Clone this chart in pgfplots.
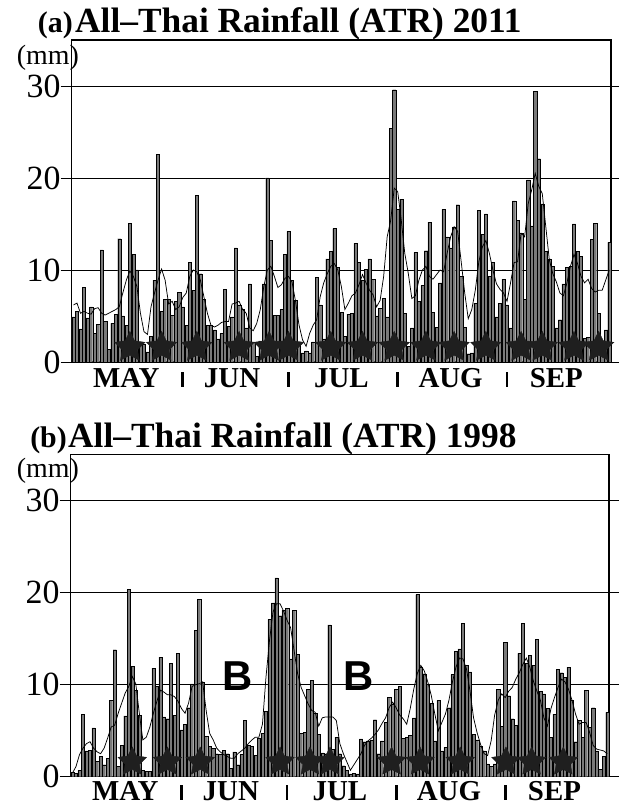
\documentclass[border=0pt]{standalone}
\usepackage{fontspec}
\setmainfont{Liberation Serif}
\setsansfont{Liberation Sans}
\usepackage{pgfplots}
\usepackage{pgfplotstable}
\pgfplotsset{compat=1.18}

% filled five-point star for the marked days
\pgfdeclareplotmark{fstar}{%
  \pgfpathmoveto{\pgfpointpolar{90}{\pgfplotmarksize}}%
  \pgfpathlineto{\pgfpointpolar{126}{0.5*\pgfplotmarksize}}%
  \pgfpathlineto{\pgfpointpolar{162}{\pgfplotmarksize}}%
  \pgfpathlineto{\pgfpointpolar{198}{0.5*\pgfplotmarksize}}%
  \pgfpathlineto{\pgfpointpolar{234}{\pgfplotmarksize}}%
  \pgfpathlineto{\pgfpointpolar{270}{0.5*\pgfplotmarksize}}%
  \pgfpathlineto{\pgfpointpolar{306}{\pgfplotmarksize}}%
  \pgfpathlineto{\pgfpointpolar{342}{0.5*\pgfplotmarksize}}%
  \pgfpathlineto{\pgfpointpolar{18}{\pgfplotmarksize}}%
  \pgfpathlineto{\pgfpointpolar{54}{0.5*\pgfplotmarksize}}%
  \pgfpathclose\pgfusepathqfillstroke}

% day (1 = 1 May), daily rain (mm), running mean (mm)
\pgfplotstableread{
day rain mean
1 4.9 6.2
2 5.5 6.4
3 3.6 5.3
4 8.1 5.5
5 4.8 5.3
6 6.0 5.2
7 3.1 5.8
8 4.1 5.9
9 12.2 5.3
10 4.4 5.1
11 1.4 5.3
12 4.2 5.5
13 5.2 5.7
14 13.4 6.0
15 5.0 7.5
16 4.0 8.9
17 15.1 9.9
18 11.7 9.3
19 10.0 8.2
20 2.2 5.3
21 1.9 3.3
22 1.1 3.0
23 2.8 6.0
24 8.9 7.5
25 22.6 8.9
26 5.5 10.1
27 6.8 8.9
28 6.8 6.3
29 5.1 6.6
30 6.6 5.7
31 7.6 6.0
32 6.0 7.0
33 4.0 7.5
34 10.8 9.3
35 7.8 10.0
36 18.1 9.8
37 9.6 8.9
38 6.8 7.1
39 4.0 5.3
40 4.0 4.0
41 3.5 3.8
42 2.5 4.0
43 3.1 4.3
44 7.9 4.4
45 3.9 4.4
46 4.9 6.3
47 12.4 6.4
48 6.2 6.6
49 5.7 5.7
50 3.7 5.3
51 8.5 3.7
52 2.2 3.4
53 0.6 4.2
54 2.3 5.7
55 8.5 8.2
56 20.0 10.0
57 13.2 10.4
58 5.1 9.3
59 5.1 8.1
60 5.7 8.4
61 11.7 9.1
62 14.2 9.3
63 8.9 8.7
64 6.7 6.6
65 1.8 4.0
66 1.0 2.4
67 1.2 1.7
68 1.0 3.1
69 2.2 4.0
70 9.2 4.6
71 6.2 7.1
72 2.5 8.6
73 11.2 9.6
74 12.0 10.4
75 14.5 10.7
76 10.3 10.0
77 5.4 8.2
78 2.8 5.7
79 5.2 6.4
80 5.3 7.2
81 12.9 7.5
82 10.8 8.4
83 8.9 9.5
84 10.1 8.6
85 11.2 7.8
86 9.0 7.3
87 5.0 6.0
88 5.8 6.7
89 6.9 9.3
90 4.9 13.6
91 25.4 15.4
92 29.6 18.9
93 16.6 18.5
94 17.7 15.4
95 5.3 11.8
96 1.7 9.6
97 3.7 6.9
98 11.9 7.2
99 6.6 8.9
100 8.3 10.0
101 12.1 10.4
102 15.2 9.3
103 5.4 9.0
104 3.8 9.5
105 8.6 10.0
106 16.6 9.8
107 13.6 11.8
108 12.4 13.6
109 14.7 14.7
110 17.1 14.2
111 9.3 10.9
112 3.8 7.5
113 0.9 4.7
114 1.0 5.7
115 6.4 7.8
116 16.5 10.9
117 13.9 12.5
118 16.1 13.2
119 9.3 11.8
120 10.8 10.0
121 4.9 8.5
122 6.4 7.9
123 9.0 7.5
124 6.2 6.6
125 3.7 8.6
126 17.5 10.8
127 15.4 10.9
128 14.0 14.0
129 6.8 13.6
130 19.8 17.2
131 14.8 18.7
132 29.4 20.5
133 22.1 19.1
134 17.2 18.3
135 12.0 14.7
136 11.2 11.1
137 10.4 9.6
138 3.7 8.7
139 4.6 7.5
140 8.5 7.2
141 10.3 8.6
142 10.4 10.4
143 15.0 11.7
144 12.0 10.7
145 11.5 9.3
146 2.6 8.6
147 2.7 9.0
148 13.3 8.0
149 15.1 7.6
150 5.3 7.8
151 1.4 7.8
152 3.5 8.9
153 13.0 10.0
}\atrA

\pgfplotstableread{
day rain mean
1 0.5 0.4
2 0.4 1.1
3 0.7 2.4
4 6.8 3.1
5 2.8 3.6
6 2.9 3.8
7 5.3 3.1
8 1.7 2.7
9 2.2 2.5
10 1.3 3.1
11 2.0 4.2
12 8.3 5.4
13 13.8 5.6
14 1.1 6.9
15 3.4 8.0
16 6.6 9.1
17 20.4 9.8
18 12.0 10.9
19 9.4 10.1
20 6.7 6.9
21 0.7 4.0
22 0.6 4.3
23 0.6 5.4
24 11.8 6.9
25 9.8 8.2
26 13.0 9.4
27 6.5 9.2
28 6.3 8.9
29 12.3 8.9
30 6.7 8.7
31 13.4 8.2
32 5.1 7.4
33 5.7 6.9
34 7.5 8.0
35 10.1 9.8
36 15.9 10.0
37 19.3 10.1
38 10.3 10.3
39 4.4 7.2
40 3.3 4.7
41 3.1 4.0
42 2.5 3.1
43 2.4 2.7
44 2.9 2.4
45 2.5 2.2
46 0.9 2.0
47 2.7 2.0
48 1.3 2.5
49 2.4 2.8
50 6.1 3.1
51 3.4 3.6
52 3.3 4.0
53 2.3 4.3
54 4.2 4.3
55 4.7 5.7
56 7.1 10.8
57 17.1 14.8
58 18.9 17.9
59 21.6 18.8
60 17.5 18.8
61 18.1 18.0
62 18.3 17.0
63 12.8 16.2
64 18.1 13.7
65 13.3 11.2
66 4.7 9.7
67 4.8 8.8
68 9.5 7.9
69 10.5 7.2
70 6.9 7.0
71 4.6 5.5
72 2.6 6.4
73 2.5 6.5
74 16.5 6.5
75 3.0 6.5
76 4.3 6.1
77 2.5 3.6
78 1.2 2.5
79 0.7 1.6
80 0.3 0.7
81 0.4 1.3
82 0.3 1.9
83 4.1 2.5
84 3.8 3.4
85 3.9 3.9
86 4.0 4.2
87 6.2 4.6
88 2.5 5.1
89 3.9 5.8
90 5.9 6.4
91 8.6 7.5
92 7.9 8.1
93 9.5 7.5
94 9.8 6.7
95 4.2 6.3
96 4.3 5.7
97 4.5 7.4
98 6.4 9.5
99 19.8 11.2
100 11.9 12.1
101 11.2 11.5
102 10.1 10.3
103 8.0 8.8
104 3.9 6.8
105 8.3 5.0
106 2.8 5.9
107 3.2 6.8
108 7.5 8.3
109 11.1 10.3
110 13.6 11.9
111 13.9 12.9
112 16.7 12.8
113 12.1 11.7
114 11.4 9.3
115 4.6 6.4
116 4.0 4.8
117 3.3 3.5
118 2.8 2.5
119 1.4 2.3
120 1.1 3.9
121 1.4 6.7
122 9.5 8.3
123 5.5 9.0
124 14.6 8.6
125 8.8 9.3
126 6.3 9.7
127 5.6 10.6
128 13.4 11.3
129 16.7 12.2
130 12.3 12.9
131 13.2 11.9
132 12.1 10.4
133 14.9 9.3
134 9.3 8.3
135 9.0 6.4
136 7.4 5.5
137 4.3 7.4
138 6.8 8.6
139 11.7 9.7
140 11.3 10.6
141 10.8 10.3
142 11.9 9.5
143 8.3 8.3
144 3.8 6.8
145 6.1 5.7
146 4.3 5.9
147 9.4 5.9
148 5.4 4.8
149 7.5 3.4
150 2.8 3.0
151 0.8 2.9
152 2.2 2.8
153 7.0 2.5
}\atrB

\newcommand{\msep}{\rule[1bp]{2.8bp}{15bp}}

\pgfplotsset{
  atr/.style={
    scale only axis,
    height=322bp,
    xmin=0.5, xmax=153.5,
    ymin=0, ymax=35,
    axis line style={line width=1.3pt},
    ytick={0,10,20,30},
    ymajorgrids,
    grid style={black, line width=0.8pt},
    ytick pos=both, yticklabel pos=left,
    tick align=outside, major tick length=11bp,
    tick style={black, line width=0.8pt},
    xtick={16,32,46,62,77,93,108,124,138},
    xticklabels={MAY,\msep,JUN,\msep,JUL,\msep,AUG,\msep,SEP},
    x tick style={draw=none},
    xticklabel style={font=\bfseries\fontsize{29}{30}\selectfont, inner sep=0pt,
      anchor=base, text depth=0pt, yshift=-15bp},
    yticklabel style={font=\fontsize{34}{36}\selectfont, inner sep=0pt, anchor=east},
    /pgf/number format/assume math mode=true,
  },
  bars/.style={ybar, bar width=0.9, fill=black!52, draw=black, line width=0.3pt},
  mean/.style={black, line width=0.75pt, mark=none},
}

\begin{document}
\begin{tikzpicture}
\useasboundingbox (0bp,0bp) rectangle (619bp,806bp);

% (a) 2011
\begin{axis}[atr, width=539.3bp, at={(71.7bp,444bp)}, anchor=south west]
\addplot[bars] table[x=day, y=rain] {\atrA};
\addplot[mean] table[x=day, y=mean] {\atrA};
\addplot[only marks, mark=fstar, mark size=16bp, fill=black!88, draw=black!88]
  coordinates {(17,1.6) (26,1.6) (36,1.6) (48,1.6) (56.5,1.6) (62,1.6) (74,1.6) (83,1.6)
               (92,1.6) (101,1.6) (109,1.6) (118,1.6) (128,1.6) (134,1.6) (143,1.6) (150,1.6)};
\end{axis}

% (b) 1998
\begin{axis}[atr, width=538.3bp, at={(70.7bp,29.3bp)}, anchor=south west,
  xticklabel style={yshift=2bp}]
\addplot[bars] table[x=day, y=rain] {\atrB};
\addplot[mean] table[x=day, y=mean] {\atrB};
\addplot[only marks, mark=fstar, mark size=15bp, fill=black!88, draw=black!88]
  coordinates {(18,1.6) (28,1.6) (37.3,1.6) (60,1.6) (68.5,1.6) (74.2,1.6)
               (91.7,1.6) (99.8,1.6) (111.2,1.6) (124.2,1.6) (131.5,1.6) (140.5,1.6)};
\node[font=\sffamily\bfseries\fontsize{42}{44}\selectfont] at (axis cs:47.8,10.9) {B};
\node[font=\sffamily\bfseries\fontsize{42}{44}\selectfont] at (axis cs:82.2,10.9) {B};
\end{axis}

% titles and unit labels
\node[anchor=base east, inner sep=0pt, font=\bfseries\fontsize{30}{32}\selectfont] at (73bp,773bp) {(a)};
\node[anchor=base west, inner sep=0pt, font=\bfseries\fontsize{35.5}{40}\selectfont] at (75bp,773bp) {All–Thai Rainfall (ATR) 2011};
\node[anchor=base east, inner sep=0pt, font=\fontsize{28}{30}\selectfont] at (79bp,741bp) {(mm)};

\node[anchor=base east, inner sep=0pt, font=\bfseries\fontsize{30}{32}\selectfont] at (67bp,358bp) {(b)};
\node[anchor=base west, inner sep=0pt, font=\bfseries\fontsize{35.5}{40}\selectfont] at (68bp,358bp) {All–Thai Rainfall (ATR) 1998};
\node[anchor=base east, inner sep=0pt, font=\fontsize{28}{30}\selectfont] at (79bp,328bp) {(mm)};
\end{tikzpicture}
\end{document}
